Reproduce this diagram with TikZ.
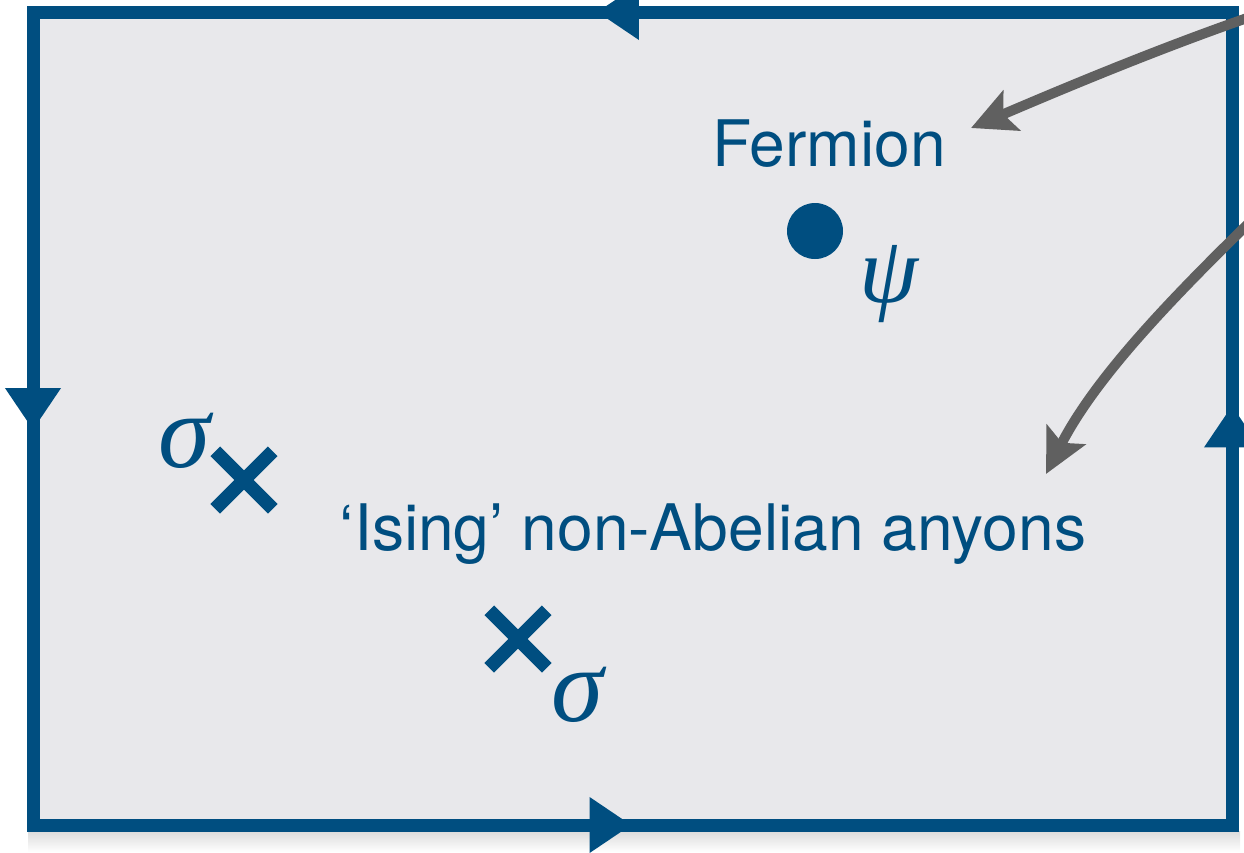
\documentclass[tikz,border=0pt]{standalone}
\usepackage{fontspec}
\setmainfont{TeX Gyre Heros}
\newfontfamily\greekfont{Liberation Serif}
\usetikzlibrary{arrows.meta}
\usetikzlibrary{decorations.markings}
\usetikzlibrary{shapes.misc}
\definecolor{isingblue}{RGB}{0,78,128}
\definecolor{panelgrey}{RGB}{232,232,235}
\definecolor{pointergrey}{RGB}{96,96,96}

\begin{document}
\begin{tikzpicture}[x=0.2mm,y=-0.2mm,
		label text/.style={text=isingblue,inner sep=0pt,anchor=base,
			font=\fontsize{36.5}{40}\selectfont},
		greek/.style={text=isingblue,inner sep=0pt,
			font=\fontsize{60}{62}\selectfont\greekfont\itshape},
		anyon/.style={cross out,draw=isingblue,line width=2.7mm,
			minimum size=8.8mm,inner sep=0pt},
		fermion/.style={circle,fill=isingblue,minimum size=11.2mm,inner sep=0pt},
		pointer/.style={draw=pointergrey,line width=2mm,
			-{Stealth[length=8.8mm,width=8.6mm,inset=1.8mm]}},
		flow/.style={postaction={decorate},decoration={markings,
			mark=at position 127mm with {\arrow{Triangle[length=8.4mm,width=10.6mm,color=isingblue]}},
			mark=at position 323.4mm with {\arrow{Triangle[length=8.4mm,width=10.6mm,color=isingblue]}},
			mark=at position 522.1mm with {\arrow{Triangle[length=8.4mm,width=10.6mm,color=isingblue]}},
			mark=at position 726.1mm with {\arrow{Triangle[length=8.4mm,width=10.6mm,color=isingblue]}}}}]
	
	\useasboundingbox (0,0) rectangle (1244,852);
	\clip (0,0) rectangle (1244,852);
	
	% soft shadow under the cell
	\shade[top color=black!14,bottom color=white] (28,831) rectangle (1240,852);
	
	% the torus cell, edges run round it
	\coordinate (ne) at (1232,12);
	\coordinate (nw) at (33,12);
	\coordinate (sw) at (33,825);
	\coordinate (se) at (1232,825);
	\draw[flow,draw=isingblue,fill=panelgrey,line width=2.6mm]
		(ne) -- (nw) -- (sw) -- (se) -- cycle;
	
	\node[fermion] (psi) at (815,231) {};
	\node[greek,font=\fontsize{54}{56}\selectfont\greekfont\itshape] (psilabel) at (889,284) {ψ};
	\node[label text] (fermionlabel) at (829,166) {Fermion};
	
	\node[anyon] (s1) at (244,480) {};
	\node[greek] (s1label) at (184,441) {σ};
	\node[anyon] (s2) at (518,639) {};
	\node[greek] (s2label) at (577,695) {σ};
	\node[label text] (isinglabel) at (713,550) {‘Ising’ non-Abelian anyons};
	
	\coordinate (fstart) at (1250,17);
	\coordinate (fend) at (971,128);
	\coordinate (istart) at (1252,220);
	\coordinate (iend) at (1046,474);
	\draw[pointer] (fstart) .. controls (1155,50) and (1060,90) .. (fend);
	\draw[pointer] (istart) .. controls (1170,300) and (1095,378) .. (iend);
\end{tikzpicture}
\end{document}
